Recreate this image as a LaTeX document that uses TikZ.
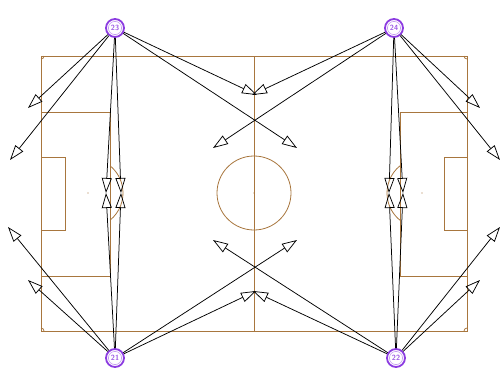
\documentclass[tikz,border=0pt]{standalone}
\usepackage{tikz}
\usetikzlibrary{arrows.meta, positioning, calc}
\definecolor{pitchbrown}{RGB}{168,118,62}
\definecolor{playerviolet}{RGB}{140,60,225}
\tikzset{
  pitchline/.style={draw=pitchbrown, line width=0.8pt},
  spot/.style={fill=pitchbrown},
  player/.style={circle, draw=playerviolet, line width=1.8pt, fill=white,
                 minimum size=18pt, inner sep=0pt, text=playerviolet!85,
                 font=\sffamily\bfseries\fontsize{7.5}{7.5}\selectfont},
  runarrow/.style={-{Triangle[open, length=15pt, width=10pt]}, line width=0.75pt, black}
}

\begin{document}
\begin{tikzpicture}[x=1pt, y=-1pt]
  \useasboundingbox (0,0) rectangle (504,372);

  % Pitch outline and halfway line
  \draw[pitchline] (41,56) rectangle (467,331);
  \draw[pitchline] (254,56) -- (254,331);
  \draw[pitchline] (254,193) circle[radius=37pt];
  \fill[spot] (254,193) circle[radius=0.7pt];

  % Left penalty area
  \draw[pitchline] (41,112) -- (110,112) -- (110,276) -- (41,276);
  \draw[pitchline] (41,157) -- (65,157) -- (65,230) -- (41,230);
  \fill[spot] (88,193) circle[radius=0.7pt];
  \draw[pitchline] ($(88,193)+(-51:35pt)$) arc[start angle=-51, end angle=51, radius=35pt];

  % Right penalty area
  \draw[pitchline] (467,112) -- (400,112) -- (400,276) -- (467,276);
  \draw[pitchline] (467,157) -- (444,157) -- (444,230) -- (467,230);
  \fill[spot] (422,193) circle[radius=0.7pt];
  \draw[pitchline] ($(422,193)+(129:35pt)$) arc[start angle=129, end angle=231, radius=35pt];

  % Corner arcs
  \draw[pitchline] ($(41,56)+(0:3pt)$) arc[start angle=0, end angle=-90, radius=3pt];
  \draw[pitchline] ($(467,56)+(180:3pt)$) arc[start angle=180, end angle=270, radius=3pt];
  \draw[pitchline] ($(41,331)+(0:3pt)$) arc[start angle=0, end angle=90, radius=3pt];
  \draw[pitchline] ($(467,331)+(180:3pt)$) arc[start angle=180, end angle=90, radius=3pt];

  % Players
  \node[player] (p23) at (115,28)  {23};
  \node[player] (p24) at (394,28)  {24};
  \node[player] (p21) at (115,358) {21};
  \node[player] (p22) at (396,358) {22};
  \foreach \p in {p21,p22,p23,p24}
    \draw[playerviolet!50, line width=0.6pt] (\p) circle[radius=6.6pt];

  % Run targets
  \coordinate (wideTL)  at (28,108);
  \coordinate (deepTL)  at (10,160);
  \coordinate (wideTR)  at (480,108);
  \coordinate (deepTR)  at (500,160);
  \coordinate (wideBL)  at (28,280);
  \coordinate (deepBL)  at (8,227);
  \coordinate (wideBR)  at (480,280);
  \coordinate (deepBR)  at (500,227);
  \coordinate (boxL1)   at (106,193);
  \coordinate (boxL2)   at (121,193);
  \coordinate (boxR1)   at (389,193);
  \coordinate (boxR2)   at (403,193);
  \coordinate (midT23)  at (257,95);
  \coordinate (midT24)  at (252,95);
  \coordinate (crossT1) at (297,148);
  \coordinate (crossT2) at (213,148);
  \coordinate (midB21)  at (256,291);
  \coordinate (midB22)  at (253,291);
  \coordinate (crossB1) at (297,240);
  \coordinate (crossB2) at (213,240);

  % Runs from 23 and 24
  \foreach \t in {wideTL,deepTL,boxL1,boxL2,midT23,crossT1}
    \draw[runarrow] (p23) -- (\t);
  \foreach \t in {wideTR,deepTR,boxR1,boxR2,midT24,crossT2}
    \draw[runarrow] (p24) -- (\t);

  % Runs from 21 and 22
  \foreach \t in {wideBL,deepBL,boxL1,boxL2,midB21,crossB1}
    \draw[runarrow] (p21) -- (\t);
  \foreach \t in {wideBR,deepBR,boxR1,boxR2,midB22,crossB2}
    \draw[runarrow] (p22) -- (\t);
\end{tikzpicture}
\end{document}
